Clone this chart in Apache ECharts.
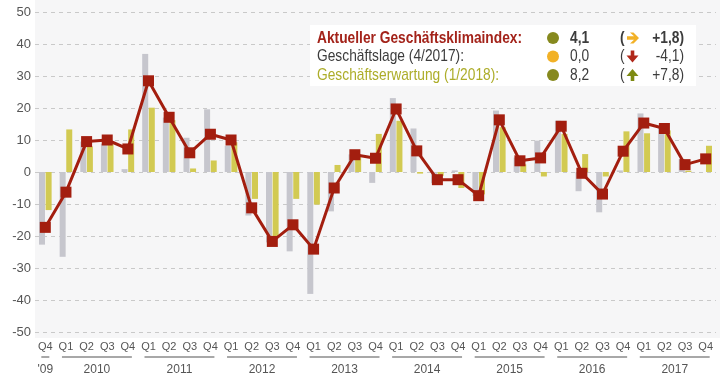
<!DOCTYPE html>
<html><head><meta charset="utf-8">
<script src="https://cdn.jsdelivr.net/npm/echarts@6/dist/echarts.min.js"></script>
<style>html,body{margin:0;padding:0;background:#fff}#c{width:720px;height:380px}</style>
</head><body><div id="c"></div>
<script>
// ---- data ----
const quarters = ['Q4',
  'Q1','Q2','Q3','Q4', 'Q1','Q2','Q3','Q4', 'Q1','Q2','Q3','Q4', 'Q1','Q2','Q3','Q4',
  'Q1','Q2','Q3','Q4', 'Q1','Q2','Q3','Q4', 'Q1','Q2','Q3','Q4', 'Q1','Q2','Q3','Q4'];
const yearLabels = ["'09",'2010','2011','2012','2013','2014','2015','2016','2017'];
const yearQuarterCount = [1,4,4,4,4,4,4,4,4];

// Geschäftslage (grey bars)
const lage = [-22.7,
  -26.5, 9.5, 8.8, 0.9,
  36.9, 17.0, 10.7, 19.6,
  8.2, -13.6, -22.0, -24.8,
  -38.1, -12.3, 5.5, -3.4,
  23.1, 13.6, -3.5, 0.5,
  -7.5, 19.2, 4.5, 9.8,
  16.0, -6.0, -12.6, 0.5,
  18.3, 14.0, 4.1, 0.0];
// Geschäftserwartung (yellow bars)
const erwartung = [-11.9,
  13.3, 8.0, 9.0, 13.3,
  20.1, 16.2, 1.1, 3.6,
  9.3, -8.4, -20.5, -8.4,
  -10.2, 2.2, 5.0, 11.9,
  16.0, -0.5, -1.2, -5.0,
  -7.0, 14.0, 2.4, -1.4,
  11.9, 5.6, -1.4, 12.7,
  12.1, 13.0, 0.4, 8.2];
// Geschäftsklimaindex (line)
const klima = [-17.3,
  -6.3, 9.5, 10.0, 7.2,
  28.5, 17.1, 6.0, 11.8,
  10.0, -11.2, -21.7, -16.5,
  -24.1, -5.0, 5.4, 4.3,
  19.7, 6.6, -2.4, -2.4,
  -7.4, 16.3, 3.5, 4.4,
  14.3, -0.4, -6.9, 6.5,
  15.3, 13.6, 2.3, 4.1];
const yTicks = {min: -50, max: 50, interval: 10};

const legendLabels = ['Aktueller Geschäftsklimaindex:', 'Geschäftslage (4/2017):', 'Geschäftserwartung (1/2018):'];
const legendValues = ['4,1', '0,0', '8,2'];
const legendChanges = ['+1,8)', '-4,1)', '+7,8)'];

// ---- style ----
const FONT = "'Liberation Sans Narrow','Arial Narrow','Liberation Sans',Arial,sans-serif";
const C_GREY = '#c6c6cd', C_YEL = '#d2ca52', C_RED = '#a31e0f';
const labelColors = ['#a3231a', '#3c3c3c', '#adad2a'];
const labelWeights = ['bold', 'normal', 'normal'];
const dotColors = ['#86891e', '#f2b126', '#86891e'];
const SX = 0.81;

const chart = echarts.init(document.getElementById('c'), null, {renderer: 'canvas'});

const rowY = [38, 56.5, 75];
const legendGraphics = [];
legendGraphics.push({type: 'rect', id: 'bg', z: -10, silent: true,
  shape: {x: 35, y: 0, width: 685, height: 338}, style: {fill: '#f6f6f7'}});
legendGraphics.push({type: 'rect', id: 'lbox', z: 10, silent: true,
  shape: {x: 310, y: 25, width: 386, height: 61}, style: {fill: '#ffffff'}});
for (let i = 0; i < 3; i++) {
  const y = rowY[i];
  const f = labelWeights[i] + ' 17px ' + FONT;
  legendGraphics.push({type: 'text', z: 11, x: 317, y: y, scaleX: SX, style: {
    text: legendLabels[i], fill: labelColors[i], font: f, verticalAlign: 'middle'}});
  legendGraphics.push({type: 'circle', z: 11, shape: {cx: 553, cy: y, r: 6}, style: {fill: dotColors[i]}});
  legendGraphics.push({type: 'text', z: 11, x: 570, y: y, scaleX: SX, style: {
    text: legendValues[i], fill: '#3c3c3c', font: f, verticalAlign: 'middle'}});
  legendGraphics.push({type: 'text', z: 11, x: 620, y: y, scaleX: SX, style: {
    text: '(', fill: '#3c3c3c', font: f, verticalAlign: 'middle'}});
  legendGraphics.push({type: 'text', z: 11, x: 684, y: y, scaleX: SX, style: {
    text: legendChanges[i], fill: '#3c3c3c', font: f, align: 'right', verticalAlign: 'middle'}});
}
// arrows
legendGraphics.push({type: 'polygon', z: 11, shape: {points: [[627,36.3],[634,36.3],[630,32.5],[633.5,32.5],[639,38],[633.5,43.5],[630,43.5],[634,39.7],[627,39.7]]}, style: {fill: '#f2b126'}});
legendGraphics.push({type: 'polygon', z: 11, shape: {points: [[630.7,50.5],[634.3,50.5],[634.3,55.5],[638.5,55.5],[632.5,62.5],[626.5,55.5],[630.7,55.5]]}, style: {fill: '#b0281a'}});
legendGraphics.push({type: 'polygon', z: 11, shape: {points: [[630.7,81],[634.3,81],[634.3,76],[638.5,76],[632.5,69],[626.5,76],[630.7,76]]}, style: {fill: '#7d8a12'}});

const option = {
  animation: false,
  backgroundColor: '#ffffff',
  textStyle: {fontFamily: FONT},
  grid: {left: 35, right: 4, top: 12, bottom: 48, containLabel: false},
  xAxis: {
    type: 'category', data: quarters,
    axisLine: {show: false}, axisTick: {show: false},
    axisLabel: {color: '#555', fontSize: 11, fontFamily: FONT, margin: 9, interval: 0}
  },
  yAxis: {
    type: 'value', min: yTicks.min, max: yTicks.max, interval: yTicks.interval,
    axisLine: {show: false}, axisTick: {show: false},
    axisLabel: {color: '#555', fontSize: 13, fontFamily: FONT, margin: 4},
    splitLine: {show: true, lineStyle: {color: '#c9c9c9', type: [4, 4], width: 1}}
  },
  series: [
    {type: 'bar', name: 'Geschäftslage', data: lage, barWidth: 6, barGap: '10%',
      itemStyle: {color: C_GREY}, z: 2},
    {type: 'bar', name: 'Geschäftserwartung', data: erwartung, barWidth: 6, barGap: '10%',
      itemStyle: {color: C_YEL}, z: 2},
    {type: 'line', name: 'Geschäftsklima', data: klima, symbol: 'rect', symbolSize: 11,
      lineStyle: {color: C_RED, width: 3}, itemStyle: {color: C_RED}, z: 5}
  ],
  graphic: {elements: legendGraphics}
};
chart.setOption(option);

// year labels under quarter groups
const yearGraphics = [];
let idx = 0;
for (let i = 0; i < yearLabels.length; i++) {
  const first = idx, last = idx + yearQuarterCount[i] - 1;
  const x0 = chart.convertToPixel({xAxisIndex: 0}, first);
  const x1 = chart.convertToPixel({xAxisIndex: 0}, last);
  yearGraphics.push({type: 'line', shape: {x1: x0 - 4, y1: 357, x2: x1 + 4, y2: 357},
    style: {stroke: '#a8a8a8', lineWidth: 2}});
  yearGraphics.push({type: 'text', x: (x0 + x1) / 2, y: 370, style: {
    text: yearLabels[i], fill: '#555', font: '12px ' + FONT, align: 'center', verticalAlign: 'middle'}});
  idx = last + 1;
}
chart.setOption({graphic: {elements: legendGraphics.concat(yearGraphics)}}, {replaceMerge: ['graphic']});
</script>
</body></html>
